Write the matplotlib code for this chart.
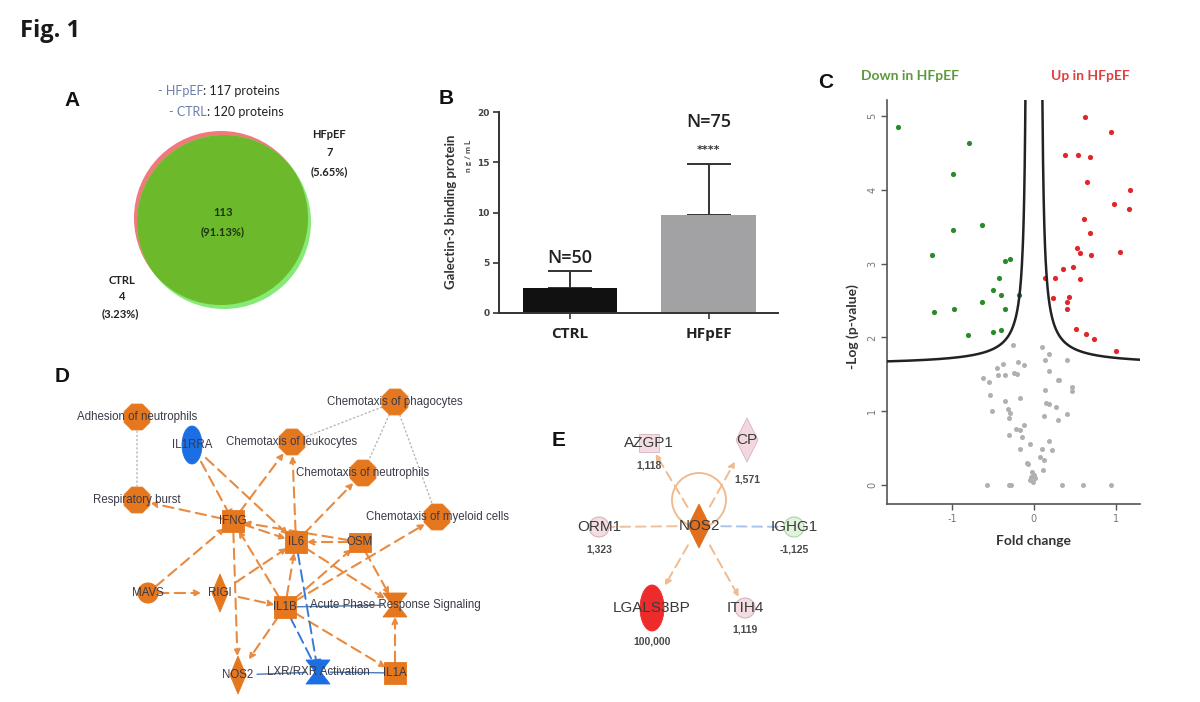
import numpy as np
import matplotlib
matplotlib.use("Agg")
import matplotlib.pyplot as plt
import matplotlib.patches as mp

# ---------------- data ----------------
# A: venn
venn_sets = ["HFpEF", "CTRL"]
venn_totals = [117, 120]
venn_only = [7, 4]
venn_only_pct = ["5.65%", "3.23%"]
venn_both = 113
venn_both_pct = "91.13%"

# B: bar chart
bar_groups = ["CTRL", "HFpEF"]
bar_means = [2.5, 9.8]
bar_sd = [1.7, 5.0]
bar_n = ["N=50", "N=75"]
bar_stars = ["", "****"]
bar_ticks = [0, 5, 10, 15, 20]

# C: volcano
down_x = [-1.67, -0.79, -0.99, -0.99, -0.63, -1.25, -0.36, -0.29, -0.43, -0.50,
          -0.40, -0.64, -0.35, -1.23, -0.98, -0.18, -0.81, -0.50, -0.40]
down_y = [4.86, 4.64, 4.22, 3.46, 3.52, 3.12, 3.04, 3.07, 2.80, 2.64,
          2.57, 2.48, 2.39, 2.34, 2.38, 2.58, 2.03, 2.07, 2.10]
up_x = [0.63, 0.95, 0.38, 0.54, 0.69, 0.65, 1.18, 0.98, 1.17, 0.61,
        0.69, 0.53, 0.56, 0.70, 1.06, 0.48, 0.36, 0.14, 0.26, 0.57,
        0.24, 0.43, 0.40, 0.41, 0.52, 0.64, 0.74, 1.00]
up_y = [4.99, 4.78, 4.47, 4.48, 4.45, 4.11, 4.00, 3.81, 3.74, 3.60,
        3.42, 3.21, 3.14, 3.12, 3.16, 2.96, 2.93, 2.80, 2.80, 2.79,
        2.54, 2.55, 2.48, 2.39, 2.12, 2.05, 1.98, 1.82]
ns_x = [-0.26, 0.10, 0.19, 0.40, 0.14, -0.20, -0.12, -0.38, -0.45, -0.24,
        -0.21, 0.18, -0.44, -0.36, -0.62, -0.55, 0.29, 0.31, 0.47, 0.47,
        0.14, -0.54, -0.17, -0.35, 0.15, 0.18, 0.27, -0.51, -0.32, -0.29,
        -0.30, 0.12, 0.29, 0.40, -0.12, -0.22, -0.17, -0.15, -0.31, -0.05,
        -0.17, 0.10, 0.18, 0.22, 0.08, 0.12, -0.09, -0.07, 0.11, -0.02,
        0.00, -0.03, 0.01, -0.05, -0.01, -0.58, -0.31, -0.28, 0.35, 0.60, 0.95]
ns_y = [1.89, 1.87, 1.78, 1.70, 1.69, 1.66, 1.63, 1.64, 1.58, 1.52,
        1.50, 1.54, 1.49, 1.49, 1.45, 1.40, 1.42, 1.42, 1.33, 1.27,
        1.29, 1.22, 1.18, 1.14, 1.11, 1.10, 1.06, 1.00, 1.03, 0.97,
        0.91, 0.93, 0.88, 0.96, 0.81, 0.76, 0.75, 0.65, 0.68, 0.56,
        0.48, 0.48, 0.60, 0.47, 0.38, 0.34, 0.30, 0.28, 0.20, 0.17,
        0.14, 0.10, 0.09, 0.06, 0.04, 0.0, 0.0, 0.0, 0.0, 0.0, 0.0]
# threshold curve parameters: y = base + c / (|x| - x0)
thr_base = 1.62
thr_c = 0.094
thr_x0 = 0.078

# D: network
d_names = ["Adhesion of neutrophils", "IL1RRA", "Chemotaxis of leukocytes",
           "Chemotaxis of phagocytes", "Chemotaxis of neutrophils", "Respiratory burst",
           "Chemotaxis of myeloid cells", "IFNG", "IL6", "OSM", "MAVS", "RIGI", "IL1B",
           "Acute Phase Response Signaling", "NOS2", "LXR/RXR Activation", "IL1A"]
d_kind = ["oct", "ellipse", "oct", "oct", "oct", "oct", "oct", "square", "square", "rect",
          "circle", "diamond", "square", "hourglass", "diamond", "hourglass", "square"]
d_up = [1, 0, 1, 1, 1, 1, 1, 1, 1, 1, 1, 1, 1, 1, 1, 0, 1]
d_x = [137, 192, 292, 395, 363, 137, 437, 233, 296, 360, 148, 220, 285, 395, 238, 318, 395]
d_y = [417, 445, 442, 402, 473, 500, 517, 521, 542, 542, 593, 593, 607, 605, 675, 672, 673]
d_edges = [
    ("IFNG", "Respiratory burst", "act"), ("IFNG", "Chemotaxis of leukocytes", "act"),
    ("IFNG", "IL6", "act"), ("IFNG", "NOS2", "act"), ("OSM", "IFNG", "act"),
    ("OSM", "IL6", "act"), ("OSM", "Acute Phase Response Signaling", "act"),
    ("IL6", "Chemotaxis of leukocytes", "act"), ("IL6", "Chemotaxis of neutrophils", "act"),
    ("IL6", "Acute Phase Response Signaling", "act"), ("MAVS", "IFNG", "act"),
    ("MAVS", "RIGI", "act"), ("RIGI", "IL6", "act"), ("RIGI", "IL1B", "act"),
    ("IL1B", "IFNG", "act"), ("IL1B", "IL6", "act"), ("IL1B", "OSM", "act"),
    ("IL1B", "Chemotaxis of myeloid cells", "act"), ("IL1B", "NOS2", "act"),
    ("IL1B", "IL1A", "act"), ("IL1A", "Acute Phase Response Signaling", "act"),
    ("IL1RRA", "IFNG", "inh"), ("IL1RRA", "IL6", "act"),
    ("IL6", "LXR/RXR Activation", "binh"), ("IL1B", "LXR/RXR Activation", "bdash"),
    ("IL1B", "Acute Phase Response Signaling", "bline"),
    ("NOS2", "LXR/RXR Activation", "bline"), ("LXR/RXR Activation", "IL1A", "bline"),
    ("Adhesion of neutrophils", "Respiratory burst", "dot"),
    ("Chemotaxis of phagocytes", "Chemotaxis of leukocytes", "dot"),
    ("Chemotaxis of phagocytes", "Chemotaxis of neutrophils", "dot"),
    ("Chemotaxis of phagocytes", "Chemotaxis of myeloid cells", "dot"),
]

# E: network
e_names = ["NOS2", "AZGP1", "CP", "ORM1", "IGHG1", "LGALS3BP", "ITIH4"]
e_values = ["", "1,118", "1,571", "1,323", "-1,125", "100,000", "1,119"]
e_kind = ["diamond", "square", "diamond", "circle", "circle", "ellipse", "circle"]
e_x = [699, 649, 747, 599, 794, 652, 745]
e_y = [526, 443, 440, 527, 527, 608, 608]
e_val_dy = [0, 23, 39, 22, 22, 33, 22]
e_edges = [("NOS2", "AZGP1", "act"), ("NOS2", "CP", "act"), ("NOS2", "LGALS3BP", "act"),
           ("NOS2", "ITIH4", "act"), ("NOS2", "ORM1", "line"), ("NOS2", "IGHG1", "bline")]

# ---------------- figure ----------------
fig = plt.figure(figsize=(12, 7.02), dpi=100)
ax0 = fig.add_axes([0, 0, 1, 1])
ax0.set_xlim(0, 1200)
ax0.set_ylim(702, 0)
ax0.axis("off")

ax0.text(20, 31, "Fig. 1", fontsize=17, fontweight="bold", family="Open Sans",
         va="center", color="#1a1a1a")

panel_font = dict(fontsize=15, fontweight="bold", family="Liberation Sans", color="#111",
                  va="center", ha="center")
ax0.text(72, 101, "A", **panel_font)
ax0.text(446, 98, "B", **panel_font)
ax0.text(826, 83, "C", **panel_font)
ax0.text(62, 376, "D", **panel_font)
ax0.text(559, 440, "E", **panel_font)

# ---------------- A ----------------
red_c = mp.Circle((221, 218), 87, color="#f07a7a", lw=0)
grn_c = mp.Circle((224, 222), 87, color="#86ea76", lw=0)
ax0.add_patch(red_c)
ax0.add_patch(grn_c)
both = mp.Circle((224, 222), 87, color="#6cb92c", lw=0)
ax0.add_patch(both)
both.set_clip_path(red_c)

small = dict(family="Lato", fontsize=8, fontweight="bold", ha="center", va="center")
hdr = dict(family="Lato", fontsize=9, va="center")
ax0.text(203, 91, "- " + venn_sets[0], color="#6b7fa8", ha="right", **hdr)
ax0.text(203, 91, ": %d proteins" % venn_totals[0], color="#222", ha="left", **hdr)
ax0.text(207, 112, "- " + venn_sets[1], color="#6b7fa8", ha="right", **hdr)
ax0.text(207, 112, ": %d proteins" % venn_totals[1], color="#222", ha="left", **hdr)
ax0.text(329, 134, venn_sets[0], color="#222", **small)
ax0.text(330, 153, str(venn_only[0]), color="#222", **small)
ax0.text(329, 172, "(%s)" % venn_only_pct[0], color="#222", **small)
ax0.text(223, 212, str(venn_both), color="#1d3510", **small)
ax0.text(223, 232, "(%s)" % venn_both_pct, color="#1d3510", **small)
ax0.text(122, 280, venn_sets[1], color="#222", **small)
ax0.text(122, 297, str(venn_only[1]), color="#222", **small)
ax0.text(120, 314, "(%s)" % venn_only_pct[1], color="#222", **small)

# ---------------- B ----------------
axB = fig.add_axes([499 / 1200, 1 - 313 / 702, 279 / 1200, 201 / 702])
axB.patch.set_alpha(0)
xb = np.arange(len(bar_groups))
axB.bar(xb, bar_means, width=0.68, color=["#111111", "#a2a2a4"], zorder=2)
axB.errorbar(xb, bar_means, yerr=[[0, 0], bar_sd], fmt="none", ecolor="#333",
             elinewidth=1.4, capsize=16, capthick=1.4, zorder=1)
axB.set_xlim(-0.51, 1.5)
axB.set_ylim(0, 20)
axB.set_yticks(bar_ticks)
axB.set_xticks(xb)
axB.set_xticklabels(bar_groups, fontsize=11, fontweight="bold", family="Open Sans",
                    color="#222")
for lab in axB.get_yticklabels():
    lab.set_fontsize(6.5)
    lab.set_fontweight("bold")
    lab.set_color("#444")
for s in ["top", "right"]:
    axB.spines[s].set_visible(False)
for s in ["left", "bottom"]:
    axB.spines[s].set_linewidth(1.4)
    axB.spines[s].set_color("#333")
axB.tick_params(axis="both", length=4, width=1.2, color="#333", pad=3)
axB.tick_params(axis="x", pad=6)
for i in range(len(bar_groups)):
    top = bar_means[i] + bar_sd[i]
    if bar_stars[i]:
        axB.text(xb[i], top + 1.4, bar_stars[i], ha="center", va="center", fontsize=8,
                 fontweight="bold", color="#333", clip_on=False)
        ny = top + 4.2
    else:
        ny = top + 1.3
    axB.text(xb[i], ny, bar_n[i], ha="center", va="center", fontsize=13,
             fontweight="semibold", family="Open Sans", color="#222", clip_on=False)
ax0.text(451, 212, "Galectin-3 binding protein", rotation=90, ha="center", va="center",
         fontsize=9.5, fontweight="bold", family="Lato", color="#333")
ax0.text(469, 156, "n g / m L", rotation=90, ha="center", va="center",
         fontsize=6, fontweight="bold", family="Lato", color="#444")

# ---------------- C ----------------
axC = fig.add_axes([887 / 1200, 1 - 504 / 702, 253 / 1200, 404 / 702])
axC.patch.set_alpha(0)
axC.scatter(ns_x, ns_y, s=13, color="#b0b0b0", lw=0, zorder=2)
axC.scatter(down_x, down_y, s=14, color="#2a8a2a", lw=0, zorder=3)
axC.scatter(up_x, up_y, s=14, color="#e0262a", lw=0, zorder=3)
xl = np.linspace(-1.80, -thr_x0 - 0.018, 300)
xr = np.linspace(thr_x0 + 0.018, 1.30, 300)
axC.plot(xl, thr_base + thr_c / (np.abs(xl) - thr_x0), color="#222", lw=1.8, zorder=4)
axC.plot(xr, thr_base + thr_c / (np.abs(xr) - thr_x0), color="#222", lw=1.8, zorder=4)
axC.set_xlim(-1.80, 1.30)
axC.set_ylim(-0.26, 5.22)
axC.set_xticks([-1, 0, 1])
axC.set_yticks([0, 1, 2, 3, 4, 5])
axC.set_xticklabels(["-1", "0", "1"])
axC.set_yticklabels(["0", "1", "2", "3", "4", "5"], rotation=90, va="center")
axC.tick_params(axis="both", length=4, width=1.0, color="#555", labelsize=7,
                labelcolor="#777", pad=3)
for s in ["top", "right"]:
    axC.spines[s].set_visible(False)
for s in ["left", "bottom"]:
    axC.spines[s].set_linewidth(1.2)
    axC.spines[s].set_color("#555")
ax0.text(910, 76, "Down in HFpEF", ha="center", va="center", fontsize=10,
         fontweight="bold", family="Lato", color="#5a9a3c")
ax0.text(1090, 76, "Up in HFpEF", ha="center", va="center", fontsize=10,
         fontweight="bold", family="Lato", color="#e04040")
ax0.text(853, 327, "-Log (p-value)", rotation=90, ha="center", va="center", fontsize=10,
         fontweight="bold", family="Lato", color="#333")
ax0.text(1033, 541, "Fold change", ha="center", va="center", fontsize=10,
         fontweight="bold", family="Lato", color="#333")


# ---------------- network helpers ----------------
def node_shape(ax, kind, x, y, w, h, fc, ec, z=5):
    if kind == "oct":
        p = mp.RegularPolygon((x, y), 8, radius=w / 2, orientation=np.pi / 8,
                              fc=fc, ec=ec, lw=0.6, zorder=z)
    elif kind == "ellipse":
        p = mp.Ellipse((x, y), w, h, fc=fc, ec=ec, lw=0.6, zorder=z)
    elif kind == "circle":
        p = mp.Circle((x, y), w / 2, fc=fc, ec=ec, lw=0.8, zorder=z)
    elif kind in ("square", "rect"):
        p = mp.Rectangle((x - w / 2, y - h / 2), w, h, fc=fc, ec=ec, lw=0.6, zorder=z)
    elif kind == "diamond":
        p = mp.Polygon([(x, y - h / 2), (x + w / 2, y), (x, y + h / 2), (x - w / 2, y)],
                       closed=True, fc=fc, ec=ec, lw=0.6, zorder=z)
    else:  # hourglass
        p = mp.Polygon([(x - w / 2, y - h / 2), (x + w / 2, y - h / 2), (x + w * 0.12, y),
                        (x + w / 2, y + h / 2), (x - w / 2, y + h / 2), (x - w * 0.12, y)],
                       closed=True, fc=fc, ec=ec, lw=0.6, zorder=z)
    ax.add_patch(p)


size_d = {"oct": (28, 28), "ellipse": (20, 38), "square": (22, 22), "rect": (22, 19),
          "circle": (20, 20), "diamond": (16, 38), "hourglass": (24, 24)}

ORANGE = "#e5781e"
BLUE = "#1c6fe3"
pos_d = {n: (d_x[i], d_y[i]) for i, n in enumerate(d_names)}
kind_d = {n: d_kind[i] for i, n in enumerate(d_names)}


def shrink_for(kind, sizes):
    w, h = sizes[kind]
    return max(w, h) * 0.36


for a, b, k in d_edges:
    pa, pb = pos_d[a], pos_d[b]
    sa, sb = shrink_for(kind_d[a], size_d), shrink_for(kind_d[b], size_d)
    if k == "act":
        style, col, ls, lw = "-|>", "#e98a3e", (0, (5, 3)), 1.5
    elif k == "inh":
        style, col, ls, lw = "-[, widthB=0.35, lengthB=0", "#e98a3e", (0, (5, 3)), 1.5
    elif k == "binh":
        style, col, ls, lw = "-[, widthB=0.35, lengthB=0", "#3a7ad6", (0, (6, 3)), 1.4
    elif k == "bdash":
        style, col, ls, lw = "-", "#3a7ad6", (0, (6, 3)), 1.4
    elif k == "bline":
        style, col, ls, lw = "-", "#4a7ab8", "-", 1.0
    else:
        style, col, ls, lw = "-", "#b8b8b8", (0, (1, 2)), 1.0
    arr = mp.FancyArrowPatch(pa, pb, arrowstyle=style, mutation_scale=9, color=col,
                             linestyle=ls, lw=lw, shrinkA=sa, shrinkB=sb, zorder=3)
    ax0.add_patch(arr)

for i, n in enumerate(d_names):
    w, h = size_d[d_kind[i]]
    fc = ORANGE if d_up[i] else BLUE
    node_shape(ax0, d_kind[i], d_x[i], d_y[i], w, h, fc, fc)
    ax0.text(d_x[i], d_y[i], n, ha="center", va="center", fontsize=8.3,
             family="Liberation Sans", color="#3a3a48", zorder=6)

# ---------------- E ----------------
size_e = {"diamond": (22, 44), "square": (20, 18), "circle": (20, 20), "ellipse": (24, 46)}
fc_e = {"NOS2": "#e0701e", "AZGP1": "#f4dde2", "CP": "#f2d8de", "ORM1": "#f4dde2",
        "IGHG1": "#e0f3dc", "LGALS3BP": "#ee2b2b", "ITIH4": "#f4dde2"}
ec_e = {"NOS2": "#e0701e", "AZGP1": "#d9b2bc", "CP": "#d9b2bc", "ORM1": "#d9b2bc",
        "IGHG1": "#a8d8a0", "LGALS3BP": "#ee2b2b", "ITIH4": "#d9b2bc"}
pos_e = {n: (e_x[i], e_y[i]) for i, n in enumerate(e_names)}
kind_e = {n: e_kind[i] for i, n in enumerate(e_names)}

for a, b, k in e_edges:
    pa, pb = pos_e[a], pos_e[b]
    sb = shrink_for(kind_e[b], size_e) + 2
    if k == "act":
        style, col = "-|>", "#f0bb90"
    elif k == "line":
        style, col = "-", "#f0c09a"
    else:
        style, col = "-", "#a8c4ea"
    arr = mp.FancyArrowPatch(pa, pb, arrowstyle=style, mutation_scale=9, color=col,
                             linestyle=(0, (5, 3)), lw=1.4, shrinkA=16, shrinkB=sb,
                             zorder=3)
    ax0.add_patch(arr)
ax0.add_patch(mp.Circle((699, 500), 27, fill=False, ec="#f0bb90", lw=1.4, zorder=3))

for i, n in enumerate(e_names):
    w, h = size_e[e_kind[i]]
    node_shape(ax0, e_kind[i], e_x[i], e_y[i], w, h, fc_e[n], ec_e[n])
    ax0.text(e_x[i], e_y[i], n, ha="center", va="center", fontsize=11,
             family="Liberation Sans", color="#3a3a3a", zorder=6)
    if e_values[i]:
        ax0.text(e_x[i], e_y[i] + e_val_dy[i], e_values[i], ha="center", va="center",
                 fontsize=7.5, fontweight="bold", family="Liberation Sans",
                 color="#4a4a4a", zorder=6)

fig.savefig("out.png", dpi=100)
